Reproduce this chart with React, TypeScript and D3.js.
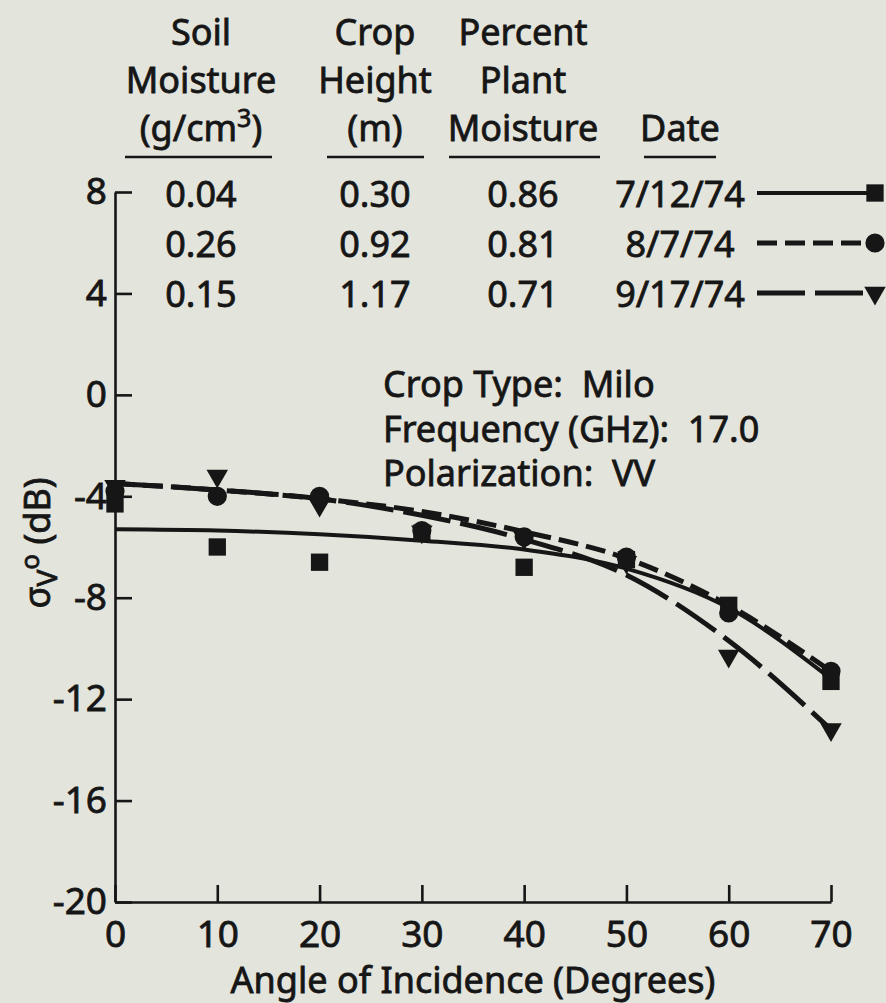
import React, { useEffect, useRef } from 'react';
import * as d3 from 'd3';

// ---- data ----
const angles = [0, 10, 20, 30, 40, 50, 60, 70];
const xTicks = [0, 10, 20, 30, 40, 50, 60, 70];
const yTicks = [8, 4, 0, -4, -8, -12, -16, -20];

// observed points (dB)
const julyObs = [-4.3, -6.0, -6.6, -5.45, -6.8, -6.5, -8.3, -11.3];
const augObs = [-3.8, -4.0, -4.0, -5.35, -5.6, -6.4, -8.6, -10.9];
const sepObs = [-3.6, -3.2, -4.35, -5.4, -5.65, -6.6, -10.3, -13.2];

// fitted curves (dB)
const julyFit = [-5.3, -5.35, -5.5, -5.75, -6.1, -6.85, -8.4, -11.2];
const augFit = [-3.5, -3.75, -4.1, -4.6, -5.4, -6.45, -8.3, -10.9];
const sepFit = [-3.5, -3.75, -4.1, -4.75, -5.7, -7.1, -9.7, -13.2];

// legend table
const dates = ['7/12/74', '8/7/74', '9/17/74'];
const soilMoisture = ['0.04', '0.26', '0.15'];
const cropHeight = ['0.30', '0.92', '1.17'];
const plantMoisture = ['0.86', '0.81', '0.71'];

const INK = '#161616';
const BG = '#e3e4dc';
const FONT = "'Noto Sans', 'DejaVu Sans', sans-serif";
const FS = 36;

const series = [
  { obs: julyObs, fit: julyFit, symbol: d3.symbolSquare, size: 300, rot: 0, dash: null as string | null, width: 4 },
  { obs: augObs, fit: augFit, symbol: d3.symbolCircle, size: 290, rot: 0, dash: '20 8', width: 5 },
  { obs: sepObs, fit: sepFit, symbol: d3.symbolTriangle, size: 200, rot: 180, dash: '48 10', width: 5 },
];
const drawOrder = [2, 1, 0];

export default function App() {
  const xAxisRef = useRef<SVGGElement>(null);
  const yAxisRef = useRef<SVGGElement>(null);

  const x = d3.scaleLinear().domain([0, 70]).range([115, 831]);
  const y = d3.scaleLinear().domain([-20, 8]).range([902, 192]);

  useEffect(() => {
    const ax = d3
      .axisBottom(x)
      .tickValues(xTicks)
      .tickSizeInner(-17)
      .tickSizeOuter(0)
      .tickPadding(19)
      .tickFormat((d) => String(d));
    const gx = d3.select(xAxisRef.current!).call(ax as any);
    gx.attr('font-family', FONT).attr('font-size', 37).attr('color', INK);
    gx.selectAll('path').attr('stroke-width', 2.6);
    gx.selectAll('line').attr('stroke-width', 2.6);
    gx.selectAll('text').attr('stroke', INK).attr('stroke-width', 0.8);

    const ay = d3
      .axisLeft(y)
      .tickValues(yTicks)
      .tickSizeInner(-17)
      .tickSizeOuter(0)
      .tickPadding(8)
      .tickFormat((d) => String(d));
    const gy = d3.select(yAxisRef.current!).call(ay as any);
    gy.attr('font-family', FONT).attr('font-size', 37).attr('color', INK);
    gy.selectAll('path').attr('stroke-width', 2.6);
    gy.selectAll('line').attr('stroke-width', 2.6);
    gy.selectAll('text').attr('stroke', INK).attr('stroke-width', 0.8);
  }, []);

  const line = d3
    .line<number>()
    .x((_, i) => x(angles[i]))
    .y((d) => y(d))
    .curve(d3.curveMonotoneX);

  const colCenters = [201, 375, 523, 680];
  const headerRows = [
    ['Soil', 'Crop', 'Percent', ''],
    ['Moisture', 'Height', 'Plant', ''],
    ['(g/cm3)', '(m)', 'Moisture', 'Date'],
  ];
  const headerBase = [45, 93, 141];
  const underlines = [
    [125, 272],
    [327, 424],
    [449, 600],
    [644, 716],
  ];
  const rowBase = [207, 257, 307];
  const tableCols = [soilMoisture, cropHeight, plantMoisture, dates];

  const textStyle = {
    fontFamily: FONT,
    fontSize: FS,
    fill: INK,
    stroke: INK,
    strokeWidth: 0.8,
  } as React.CSSProperties;
  const preStyle = { ...textStyle, whiteSpace: 'pre' } as React.CSSProperties;

  return (
    <svg
      width={886}
      height={1003}
      style={{ position: 'absolute', left: 0, top: 0, background: BG }}
    >
      <rect x={0} y={0} width={886} height={1003} fill={BG} />

      {/* legend table header */}
      {headerRows.map((row, r) =>
        row.map((t, c) =>
          t ? (
            <text key={`h${r}-${c}`} x={colCenters[c]} y={headerBase[r]} textAnchor="middle" style={textStyle}>
              {t === '(g/cm3)' ? (
                <>
                  (g/cm<tspan dy={-14} fontSize={25}>3</tspan>
                  <tspan dy={14}>)</tspan>
                </>
              ) : (
                t
              )}
            </text>
          ) : null
        )
      )}
      {underlines.map((u, i) => (
        <line key={`u${i}`} x1={u[0]} x2={u[1]} y1={157} y2={157} stroke={INK} strokeWidth={2.6} />
      ))}
      {tableCols.map((col, c) =>
        col.map((t, r) => (
          <text key={`t${c}-${r}`} x={colCenters[c]} y={rowBase[r]} textAnchor="middle" style={textStyle}>
            {t}
          </text>
        ))
      )}

      {/* legend lines */}
      {series.map((s, i) => {
        const ly = rowBase[i] - 14;
        return (
          <g key={`lg${i}`}>
            <line
              x1={757}
              x2={872}
              y1={ly}
              y2={ly}
              stroke={INK}
              strokeWidth={s.width}
              strokeDasharray={s.dash ?? undefined}
            />
            <path
              d={d3.symbol().type(s.symbol).size(s.size)()!}
              transform={`translate(875,${ly}) rotate(${s.rot})`}
              fill={INK}
            />
          </g>
        );
      })}

      {/* annotation */}
      <text x={383} y={397} style={preStyle}>Crop Type:  Milo</text>
      <text x={383} y={442} style={preStyle}>Frequency (GHz):  17.0</text>
      <text x={383} y={486} style={preStyle}>Polarization:  VV</text>

      {/* axes */}
      <g ref={yAxisRef} transform={`translate(${x(0)},0)`} />
      <g ref={xAxisRef} transform={`translate(0,${y(-20)})`} />

      {/* y axis title */}
      <text transform="translate(50,543) rotate(-90)" textAnchor="middle" style={textStyle}>
        σ<tspan dy={7} fontSize={28}>V</tspan>
        <tspan dy={-18} fontSize={26}>o</tspan>
        <tspan dy={11}> (dB)</tspan>
      </text>

      {/* x axis title */}
      <text x={473} y={993} textAnchor="middle" style={textStyle}>
        Angle of Incidence (Degrees)
      </text>

      {/* curves */}
      {series.map((s, i) => (
        <path
          key={`c${i}`}
          d={line(s.fit)!}
          fill="none"
          stroke={INK}
          strokeWidth={s.width}
          strokeDasharray={s.dash ?? undefined}
        />
      ))}

      {/* points */}
      {drawOrder.map((i) => {
        const s = series[i];
        return s.obs.map((v, j) => (
          <path
            key={`p${i}-${j}`}
            d={d3.symbol().type(s.symbol).size(s.size)()!}
            transform={`translate(${x(angles[j])},${y(v)}) rotate(${s.rot})`}
            fill={INK}
          />
        ));
      })}
    </svg>
  );
}
